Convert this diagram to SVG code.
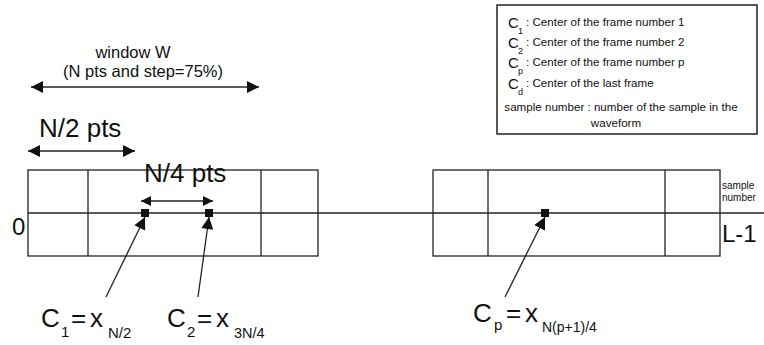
<svg xmlns="http://www.w3.org/2000/svg" width="764" height="345" viewBox="0 0 764 345">
<defs>
<style>
.ln{stroke:#222;stroke-width:1.3;fill:none}
.t{font-family:"Liberation Sans",Arial,sans-serif;fill:#111}
.lg{font-size:11.6px}
.big{font-size:15px}
.sub{font-size:9px}
.pt{fill:#111}
</style>
<marker id="ah" viewBox="0 0 10 10" refX="10" refY="5" markerWidth="11" markerHeight="10" markerUnits="userSpaceOnUse" orient="auto-start-reverse">
<path d="M0,0 L10,5 L0,10 z" fill="#111"/>
</marker>
<marker id="ahL" viewBox="0 0 10 10" refX="10" refY="5" markerWidth="18" markerHeight="12" markerUnits="userSpaceOnUse" orient="auto-start-reverse">
<path d="M0,0 L10,5 L0,10 z" fill="#111"/>
</marker>
<marker id="ahP" viewBox="0 0 10 10" refX="10" refY="5" markerWidth="17" markerHeight="12" markerUnits="userSpaceOnUse" orient="auto">
<path d="M0,0 L10,5 L0,10 z" fill="#111"/>
</marker>
</defs>
<rect width="764" height="345" fill="#fff"/>

<g id="legend">
<rect x="497" y="5" width="260" height="129" fill="#fff" stroke="#222" stroke-width="1.5"/>
<text class="t big" x="508" y="28">C<tspan class="sub" x="518" y="34">1</tspan><tspan class="lg" x="526" y="26">: Center of the frame number  1</tspan></text>
<text class="t big" x="508" y="48">C<tspan class="sub" x="518" y="54">2</tspan><tspan class="lg" x="526" y="46">: Center of the frame number  2</tspan></text>
<text class="t big" x="508" y="68">C<tspan class="sub" x="518" y="74">p</tspan><tspan class="lg" x="526" y="66">: Center of the frame number  p</tspan></text>
<text class="t big" x="508" y="89">C<tspan class="sub" x="518" y="95">d</tspan><tspan class="lg" x="526" y="87">: Center of the last frame</tspan></text>
<text class="t lg" x="621" y="111" text-anchor="middle">sample  number : number of the sample in the</text>
<text class="t lg" x="616" y="127" text-anchor="middle">waveform</text>
</g>

<g id="window-label">
<text class="t" font-size="16.5" x="133" y="58" text-anchor="middle" fill="#222">window W</text>
<text class="t" font-size="16.5" x="143" y="77" text-anchor="middle" fill="#222">(N pts and step=75%)</text>
</g>

<g id="n2-label">
<text class="t" font-size="26" x="39" y="137">N/2 pts</text>
</g>

<g id="frame-left">
<rect class="ln" x="28" y="170" width="290" height="86"/>
<line class="ln" x1="88" y1="170" x2="88" y2="256"/>
<line class="ln" x1="261" y1="170" x2="261" y2="256"/>
</g>

<g id="frame-right">
<rect class="ln" x="433" y="170" width="287" height="86"/>
<line class="ln" x1="488" y1="170" x2="488" y2="256"/>
<line class="ln" x1="665" y1="170" x2="665" y2="256"/>
</g>

<g id="axis">
<line class="ln" x1="28" y1="213" x2="764" y2="213"/>
<text class="t" font-size="24" x="12" y="235">0</text>
<text class="t" font-size="24" x="722" y="242">L-1</text>
<text class="t" font-size="10" x="722" y="189" fill="#222">sample</text>
<text class="t" font-size="10" x="722" y="201" fill="#222">number</text>
</g>

<g id="n4-label">
<text class="t" font-size="26" x="144" y="182">N/4 pts</text>
</g>

<g id="points">
<rect class="pt" x="141" y="209" width="8" height="8"/>
<rect class="pt" x="205" y="209" width="8" height="8"/>
<rect class="pt" x="541" y="209" width="8" height="8"/>
</g>

<g id="connectors">
<line class="ln" x1="31" y1="87" x2="259" y2="87" marker-start="url(#ahL)" marker-end="url(#ahL)"/>
<line class="ln" x1="28" y1="151" x2="135" y2="151" marker-start="url(#ahL)" marker-end="url(#ahL)"/>
<line class="ln" x1="141" y1="201" x2="213" y2="201" marker-start="url(#ah)" marker-end="url(#ah)"/>
<line class="ln" x1="106" y1="297" x2="145" y2="217" marker-end="url(#ahP)"/>
<line class="ln" x1="198" y1="297" x2="209" y2="217" marker-end="url(#ahP)"/>
<line class="ln" x1="505" y1="297" x2="545" y2="217" marker-end="url(#ahP)"/>
</g>

<g id="c1-label">
<text class="t" font-size="26" x="41" y="327">C<tspan font-size="15" x="61" y="337">1</tspan><tspan x="71" y="327">=</tspan><tspan x="90" y="327">x</tspan><tspan font-size="15" x="108" y="338">N/2</tspan></text>
</g>
<g id="c2-label">
<text class="t" font-size="26" x="167" y="327">C<tspan font-size="15" x="187" y="337">2</tspan><tspan x="197" y="327">=</tspan><tspan x="216" y="327">x</tspan><tspan font-size="14.5" x="234" y="338">3N/4</tspan></text>
</g>
<g id="cp-label">
<text class="t" font-size="26" x="473" y="322">C<tspan font-size="15" x="494" y="330">p</tspan><tspan x="506" y="322">=</tspan><tspan x="525" y="322">x</tspan><tspan font-size="14" x="542" y="332">N(p+1)/4</tspan></text>
</g>
</svg>
